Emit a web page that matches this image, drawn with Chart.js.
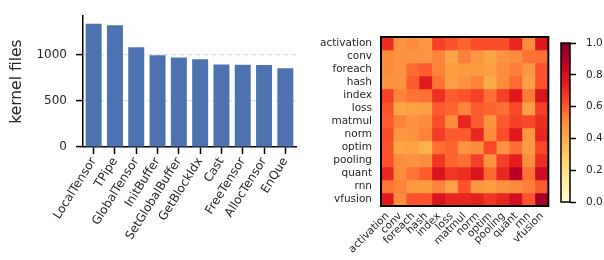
<!DOCTYPE html>
<html>
<head>
<meta charset="utf-8">
<script src="https://cdn.jsdelivr.net/npm/chart.js@4.4.0/dist/chart.umd.min.js"></script>
<style>
  body { margin: 0; background: #fff; }
  #wrap { position: relative; width: 604px; height: 260px; }
  canvas { position: absolute; top: 0; }
</style>
</head>
<body>
<div id="wrap">
  <canvas id="barChart" width="300" height="260" style="left:0"></canvas>
  <canvas id="heatChart" width="255" height="260" style="left:300px"></canvas>
  <canvas id="cbarChart" width="49" height="260" style="left:555px"></canvas>
</div>
<script>
// left panel: API usage counts
var apiNames = ['LocalTensor', 'TPipe', 'GlobalTensor', 'InitBuffer', 'SetGlobalBuffer',
  'GetBlockIdx', 'Cast', 'FreeTensor', 'AllocTensor', 'EnQue'];
var kernelFiles = [1331, 1314, 1077, 990, 968, 947, 891, 888, 885, 852];
var barTicks = [0, 500, 1000];

// right panel: similarity between kernel categories
var categories = ['activation', 'conv', 'foreach', 'hash', 'index', 'loss', 'matmul',
  'norm', 'optim', 'pooling', 'quant', 'rnn', 'vfusion'];
var simActivation = [0.70, 0.48, 0.50, 0.47, 0.66, 0.62, 0.58, 0.63, 0.63, 0.63, 0.72, 0.50, 0.76];
var simConv       = [0.50, 0.48, 0.48, 0.48, 0.52, 0.42, 0.53, 0.47, 0.42, 0.48, 0.50, 0.55, 0.56];
var simForeach    = [0.50, 0.48, 0.57, 0.60, 0.52, 0.45, 0.46, 0.46, 0.44, 0.50, 0.53, 0.47, 0.62];
var simHash       = [0.48, 0.48, 0.60, 0.75, 0.55, 0.44, 0.48, 0.52, 0.40, 0.50, 0.57, 0.44, 0.62];
var simIndex      = [0.66, 0.52, 0.55, 0.56, 0.70, 0.60, 0.62, 0.66, 0.56, 0.66, 0.76, 0.54, 0.78];
var simLoss       = [0.62, 0.42, 0.44, 0.44, 0.60, 0.58, 0.52, 0.60, 0.58, 0.56, 0.64, 0.44, 0.66];
var simMatmul     = [0.60, 0.52, 0.48, 0.50, 0.63, 0.50, 0.72, 0.60, 0.48, 0.60, 0.66, 0.64, 0.70];
var simNorm       = [0.63, 0.47, 0.48, 0.52, 0.67, 0.60, 0.60, 0.72, 0.50, 0.63, 0.76, 0.47, 0.72];
var simOptim      = [0.62, 0.42, 0.43, 0.38, 0.56, 0.58, 0.48, 0.50, 0.64, 0.48, 0.56, 0.46, 0.64];
var simPooling    = [0.62, 0.50, 0.48, 0.50, 0.68, 0.58, 0.56, 0.66, 0.48, 0.66, 0.74, 0.50, 0.70];
var simQuant      = [0.72, 0.50, 0.55, 0.60, 0.78, 0.68, 0.70, 0.78, 0.57, 0.72, 0.88, 0.56, 0.82];
var simRnn        = [0.55, 0.52, 0.46, 0.46, 0.52, 0.44, 0.62, 0.47, 0.45, 0.48, 0.50, 0.53, 0.60];
var simVfusion    = [0.76, 0.50, 0.62, 0.62, 0.78, 0.72, 0.72, 0.73, 0.68, 0.72, 0.80, 0.62, 0.92];
var simRows = [simActivation, simConv, simForeach, simHash, simIndex, simLoss, simMatmul,
  simNorm, simOptim, simPooling, simQuant, simRnn, simVfusion];
var cbarTicks = [0, 0.2, 0.4, 0.6, 0.8, 1.0];

var FONT = 'DejaVu Sans';
var TXT = '#262626';

// YlOrRd colormap stops
var ylOrRd = ['#ffffcc', '#ffeda0', '#fed976', '#feb24c', '#fd8d3c', '#fc4e2a', '#e31a1c', '#bd0026', '#800026'];
function hex2rgb(h) {
  return [parseInt(h.substr(1, 2), 16), parseInt(h.substr(3, 2), 16), parseInt(h.substr(5, 2), 16)];
}
function cmap(v) {
  var t = Math.max(0, Math.min(1, v)) * (ylOrRd.length - 1);
  var i = Math.min(Math.floor(t), ylOrRd.length - 2);
  var f = t - i;
  var a = hex2rgb(ylOrRd[i]), b = hex2rgb(ylOrRd[i + 1]);
  return 'rgb(' + a.map(function (c, k) { return Math.round(c + (b[k] - c) * f); }).join(',') + ')';
}

// black frame round the plot area
var framePlugin = {
  id: 'frame',
  afterDatasetsDraw: function (chart, args, opts) {
    if (!opts.width) return;
    var a = chart.chartArea, ctx = chart.ctx;
    ctx.save();
    ctx.strokeStyle = '#000';
    ctx.lineWidth = opts.width;
    ctx.strokeRect(a.left, a.top, a.right - a.left, a.bottom - a.top);
    ctx.restore();
  }
};
Chart.register(framePlugin);
Chart.defaults.font.family = FONT;
Chart.defaults.color = TXT;
Chart.defaults.animation = false;
Chart.defaults.plugins.legend.display = false;
Chart.defaults.plugins.tooltip.enabled = false;

// ---- bar chart ----
new Chart(document.getElementById('barChart'), {
  type: 'bar',
  data: {
    labels: apiNames,
    datasets: [{
      data: kernelFiles,
      backgroundColor: '#4c72b0',
      borderWidth: 0,
      barPercentage: 0.75,
      categoryPercentage: 1
    }]
  },
  options: {
    responsive: false,
    layout: { padding: { top: 4, right: 4, left: 0, bottom: 0 } },
    plugins: { frame: { width: 0 } },
    scales: {
      x: {
        afterFit: function (s) { s.height = 113; },
        grid: { offset: false, drawOnChartArea: false, tickLength: 7, tickColor: '#000', tickWidth: 1.5 },
        border: { color: '#000', width: 1.5 },
        ticks: { minRotation: 58, maxRotation: 58, padding: 1, font: { size: 12 }, autoSkip: false }
      },
      y: {
        min: 0,
        max: 1413,
        afterFit: function (s) { s.width = 83; },
        afterBuildTicks: function (s) { s.ticks = barTicks.map(function (v) { return { value: v }; }); },
        grid: {
          color: function (c) { return c.tick && c.tick.value === 0 ? 'rgba(0,0,0,0)' : '#dddddd'; },
          lineWidth: 1.2,
          tickLength: 7, tickColor: '#000', tickWidth: 1.5, tickBorderDash: []
        },
        border: { color: '#000', width: 1.5, dash: [5, 3] },
        ticks: { padding: 9, font: { size: 12 }, autoSkip: false, callback: function (v) { return String(v); } },
        title: { display: true, text: 'kernel files', font: { size: 15.5 }, padding: { top: 8, bottom: 0 } }
      }
    }
  }
});

// ---- heatmap (stacked unit bars, one dataset per row) ----
new Chart(document.getElementById('heatChart'), {
  type: 'bar',
  data: {
    labels: categories,
    datasets: simRows.map(function (row, i) {
      return {
        label: categories[i],
        data: row.map(function () { return 1; }),
        backgroundColor: row.map(cmap),
        borderWidth: 0,
        barPercentage: 1,
        categoryPercentage: 1
      };
    })
  },
  options: {
    responsive: false,
    layout: { padding: { top: 37, right: 5, left: 0, bottom: 0 } },
    plugins: { frame: { width: 2 } },
    scales: {
      x: {
        stacked: true,
        afterFit: function (s) { s.height = 54; },
        grid: { display: false, tickLength: 0 },
        border: { display: false },
        ticks: { minRotation: 45, maxRotation: 45, padding: 4, font: { size: 10.5 }, autoSkip: false }
      },
      y: {
        stacked: true,
        reverse: true,
        min: 0,
        max: categories.length,
        afterFit: function (s) { s.width = 81; },
        afterBuildTicks: function (s) {
          s.ticks = categories.map(function (c, i) { return { value: i + 0.5 }; });
        },
        grid: { display: false, tickLength: 0 },
        border: { display: false },
        ticks: {
          padding: 9,
          autoSkip: false,
          font: { size: 10.5 },
          callback: function (v) { return categories[Math.floor(v)]; }
        }
      }
    }
  }
});

// ---- colour bar ----
new Chart(document.getElementById('cbarChart'), {
  type: 'bar',
  data: {
    labels: ['cbar'],
    datasets: [{
      data: [[0, 1]],
      backgroundColor: function (c) {
        var a = c.chart.chartArea;
        if (!a) return '#fd8d3c';
        var g = c.chart.ctx.createLinearGradient(0, a.bottom, 0, a.top);
        ylOrRd.forEach(function (col, i) { g.addColorStop(i / (ylOrRd.length - 1), col); });
        return g;
      },
      borderWidth: 0,
      barPercentage: 1,
      categoryPercentage: 1
    }]
  },
  options: {
    responsive: false,
    layout: { padding: { top: 43, right: 0, left: 6, bottom: 58 } },
    plugins: { frame: { width: 1.5 } },
    scales: {
      x: { display: false },
      y: {
        position: 'right',
        min: 0,
        max: 1,
        afterFit: function (s) { s.width = 34; },
        afterBuildTicks: function (s) { s.ticks = cbarTicks.map(function (v) { return { value: v }; }); },
        grid: { drawOnChartArea: false, tickLength: 6, tickColor: '#000', tickWidth: 1.5 },
        border: { display: false },
        ticks: { padding: 10, autoSkip: false, font: { size: 10.5 }, callback: function (v) { return v.toFixed(1); } }
      }
    }
  }
});
</script>
</body>
</html>
